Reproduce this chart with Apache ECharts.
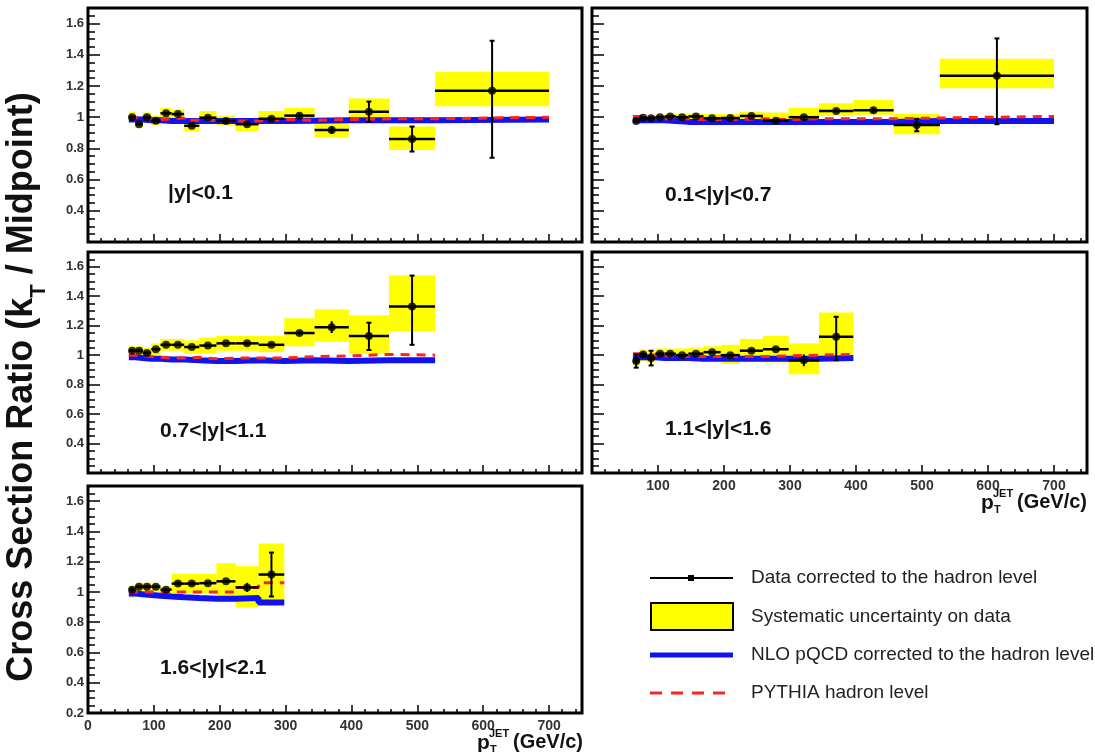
<!DOCTYPE html>
<html><head><meta charset="utf-8">
<script src="https://cdn.jsdelivr.net/npm/echarts@6/dist/echarts.min.js"></script>
<style>html,body{margin:0;padding:0;background:#fff}#c{width:1095px;height:752px}</style>
</head><body><div id="c"></div>
<script>
// ---------------- data ----------------
const binEdges = [62,72,83,96,110,127,146,169,195,224,259,298,344,396,457,527,700];
const pointX   = [67,77.5,89.5,103,118.5,136.5,157.5,182,209.5,241.5,278.5,321,370,426.5,492,613.5];
const xTicks = [0,100,200,300,400,500,600,700];
const yTicks = [0.2,0.4,0.6,0.8,1.0,1.2,1.4,1.6];
const panelLabels = ['|y|<0.1','0.1<|y|<0.7','0.7<|y|<1.1','1.1<|y|<1.6','1.6<|y|<2.1'];

// |y|<0.1
const ratio1  = [1.00,0.955,1.00,0.978,1.025,1.02,0.945,0.997,0.976,0.955,0.99,1.01,0.918,1.035,0.86,1.17];
const errLo1  = [0.01,0.01,0.01,0.01,0.01,0.01,0.01,0.01,0.01,0.01,0.012,0.015,0.025,0.065,0.08,0.43];
const errHi1  = [0.01,0.01,0.01,0.01,0.01,0.01,0.01,0.01,0.01,0.01,0.012,0.015,0.025,0.065,0.08,0.32];
const sysLo1  = [0.97,0.93,0.97,0.95,0.99,0.98,0.91,0.965,0.95,0.91,0.955,0.96,0.87,0.97,0.79,1.07];
const sysHi1  = [1.035,1.00,1.03,1.01,1.06,1.05,0.975,1.04,1.01,0.99,1.04,1.06,0.975,1.12,0.94,1.29];
const nlo1    = [0.985,0.985,0.98,0.98,0.975,0.975,0.975,0.975,0.975,0.975,0.975,0.978,0.98,0.98,0.98,0.985];
const pythia1 = [1.0,0.99,0.99,0.985,0.99,0.995,0.98,0.98,0.975,0.975,0.985,0.98,0.985,0.99,0.99,1.0];

// 0.1<|y|<0.7
const ratio2  = [0.976,0.997,0.993,1.0,1.005,1.0,1.005,0.993,0.995,1.008,0.978,1.0,1.04,1.045,0.95,1.265];
const errLo2  = [0.01,0.005,0.005,0.005,0.005,0.005,0.005,0.005,0.005,0.008,0.008,0.01,0.012,0.018,0.04,0.31];
const errHi2  = [0.01,0.005,0.005,0.005,0.005,0.005,0.005,0.005,0.005,0.008,0.008,0.01,0.012,0.018,0.04,0.24];
const sysLo2  = [0.96,0.985,0.98,0.985,0.99,0.985,0.985,0.975,0.975,0.985,0.95,0.965,1.01,1.015,0.89,1.185];
const sysHi2  = [0.995,1.01,1.01,1.015,1.02,1.02,1.025,1.02,1.02,1.035,1.03,1.06,1.09,1.11,1.02,1.375];
const nlo2    = [0.98,0.98,0.98,0.98,0.975,0.97,0.97,0.97,0.97,0.97,0.97,0.97,0.97,0.97,0.975,0.975];
const pythia2 = [1.005,1.0,0.995,0.99,0.99,0.99,0.985,0.985,0.985,0.99,0.985,0.99,0.99,0.99,0.995,1.005];

// 0.7<|y|<1.1
const ratio3  = [1.03,1.03,1.015,1.04,1.07,1.07,1.055,1.065,1.08,1.08,1.07,1.15,1.19,1.13,1.33];
const errLo3  = [0.012,0.01,0.01,0.008,0.008,0.008,0.008,0.008,0.008,0.01,0.01,0.015,0.04,0.095,0.26];
const errHi3  = [0.012,0.01,0.01,0.008,0.008,0.008,0.008,0.008,0.008,0.01,0.01,0.015,0.04,0.09,0.21];
const sysLo3  = [1.0,0.995,0.985,1.0,1.03,1.03,1.01,1.01,1.03,1.03,1.02,1.06,1.09,1.01,1.16];
const sysHi3  = [1.06,1.06,1.05,1.08,1.11,1.11,1.10,1.12,1.13,1.13,1.13,1.25,1.31,1.27,1.54];
const nlo3    = [0.985,0.98,0.975,0.975,0.97,0.97,0.965,0.96,0.96,0.965,0.96,0.965,0.96,0.965,0.965];
const pythia3 = [1.0,0.995,0.99,0.985,0.98,0.98,0.985,0.975,0.98,0.98,0.98,0.99,0.995,1.005,1.0];

// 1.1<|y|<1.6
const ratio4  = [0.96,1.005,0.98,1.01,1.01,1.0,1.01,1.02,1.0,1.03,1.04,0.965,1.125];
const errLo4  = [0.045,0.02,0.05,0.01,0.008,0.008,0.008,0.008,0.008,0.01,0.012,0.04,0.16];
const errHi4  = [0.045,0.02,0.05,0.01,0.008,0.008,0.008,0.008,0.008,0.01,0.012,0.04,0.135];
const sysLo4  = [0.93,0.96,0.95,0.975,0.975,0.97,0.97,0.975,0.94,0.98,0.95,0.87,0.965];
const sysHi4  = [1.01,1.04,1.03,1.045,1.045,1.045,1.05,1.06,1.07,1.11,1.13,1.08,1.29];
const nlo4    = [0.985,0.985,0.985,0.98,0.98,0.98,0.975,0.975,0.975,0.975,0.975,0.975,0.98];
const pythia4 = [1.01,1.005,1.0,0.995,0.99,0.99,0.99,0.99,0.99,0.99,0.995,1.0,1.005];

// 1.6<|y|<2.1
const ratio5  = [1.015,1.035,1.035,1.035,1.015,1.055,1.055,1.058,1.07,1.03,1.115];
const errLo5  = [0.015,0.01,0.01,0.01,0.01,0.015,0.015,0.01,0.01,0.03,0.145];
const errHi5  = [0.015,0.01,0.01,0.01,0.01,0.015,0.015,0.01,0.01,0.03,0.145];
const sysLo5  = [0.96,1.0,1.0,1.0,0.985,0.99,0.99,0.99,0.95,0.90,0.92];
const sysHi5  = [1.04,1.06,1.06,1.05,1.035,1.12,1.12,1.12,1.19,1.17,1.32];
const nlo5    = [0.99,0.985,0.98,0.975,0.97,0.965,0.96,0.955,0.955,0.96,0.93];
const pythia5 = [1.0,1.0,1.0,1.0,1.0,1.0,1.0,1.0,1.0,1.03,1.06];

const legendNames = ['Data corrected to the hadron level','Systematic uncertainty on data',
                     'NLO pQCD corrected to the hadron level','PYTHIA hadron level'];

// ---------------- layout ----------------
const panels = [
  {ratio:ratio1, errLo:errLo1, errHi:errHi1, sysLo:sysLo1, sysHi:sysHi1, nlo:nlo1, pythia:pythia1,
   grid:{left:88, top:8, width:494, height:234}, yLab:true, xLab:false, xZero:false, lab:[168,195]},
  {ratio:ratio2, errLo:errLo2, errHi:errHi2, sysLo:sysLo2, sysHi:sysHi2, nlo:nlo2, pythia:pythia2,
   grid:{left:592, top:8, width:495, height:234}, yLab:false, xLab:false, xZero:false, lab:[665,197]},
  {ratio:ratio3, errLo:errLo3, errHi:errHi3, sysLo:sysLo3, sysHi:sysHi3, nlo:nlo3, pythia:pythia3,
   grid:{left:88, top:252, width:494, height:221}, yLab:true, xLab:false, xZero:false, lab:[160,433]},
  {ratio:ratio4, errLo:errLo4, errHi:errHi4, sysLo:sysLo4, sysHi:sysHi4, nlo:nlo4, pythia:pythia4,
   grid:{left:592, top:252, width:495, height:221}, yLab:false, xLab:true, xZero:false, lab:[665,431]},
  {ratio:ratio5, errLo:errLo5, errHi:errHi5, sysLo:sysLo5, sysHi:sysHi5, nlo:nlo5, pythia:pythia5,
   grid:{left:88, top:486, width:494, height:227}, yLab:true, xLab:true, xZero:true, lab:[160,670]}
];

const BLUE = '#1212ee', RED = '#ff2222', YEL = '#ffff00';
const grids = [], xAxes = [], yAxes = [], series = [], graphics = [];

panels.forEach((p, i) => {
  const n = p.ratio.length;
  grids.push(Object.assign({show:true, borderColor:'#000', borderWidth:3, backgroundColor:'#fff'}, p.grid));
  xAxes.push({
    gridIndex:i, type:'value', min:0, max:750, interval:100,
    axisLine:{show:false},
    axisTick:{show:true, inside:true, length:8, lineStyle:{color:'#000', width:1.5}},
    minorTick:{show:true, splitNumber:5, length:4, lineStyle:{color:'#000', width:1.5}},
    splitLine:{show:false}, minorSplitLine:{show:false},
    axisLabel:{show:p.xLab, fontFamily:'Arial', fontWeight:'bold', fontSize:14, color:'#333', margin:6,
      formatter: v => (xTicks.indexOf(v) < 0 || (v === 0 && !p.xZero)) ? '' : String(v)}
  });
  yAxes.push({
    gridIndex:i, type:'value', min:0.2, max:1.7, interval:0.2,
    axisLine:{show:false},
    axisTick:{show:true, inside:true, length:12, lineStyle:{color:'#000', width:1.5}},
    minorTick:{show:true, splitNumber:4, length:7, lineStyle:{color:'#000', width:1.5}},
    splitLine:{show:false}, minorSplitLine:{show:false},
    axisLabel:{show:p.yLab, fontFamily:'Arial', fontWeight:'bold', fontSize:13, color:'#333', margin:4,
      formatter: v => {
        const t = yTicks.find(k => Math.abs(k - v) < 1e-6);
        if (t === undefined) return '';
        if (Math.abs(t - 0.2) < 1e-6 && i !== 4) return '';
        return Math.abs(t - 1) < 1e-6 ? '1' : t.toFixed(1);
      }}
  });
  // systematic boxes
  series.push({
    type:'custom', xAxisIndex:i, yAxisIndex:i, silent:true, z:1, clip:true,
    encode:{x:[0,1], y:[2,3]},
    data: p.ratio.map((_, k) => [binEdges[k], binEdges[k+1], p.sysLo[k], p.sysHi[k]]),
    renderItem: (params, api) => {
      const a = api.coord([api.value(0), api.value(3)]);
      const b = api.coord([api.value(1), api.value(2)]);
      return {type:'rect', shape:{x:a[0], y:a[1], width:b[0]-a[0], height:b[1]-a[1]}, style:{fill:YEL}};
    }
  });
  // step lines
  const stepData = arr => arr.map((v, k) => [binEdges[k], v]).concat([[binEdges[n], arr[n-1]]]);
  series.push({type:'line', xAxisIndex:i, yAxisIndex:i, step:'end', showSymbol:false, symbol:'none', z:3,
    silent:true, data:stepData(p.nlo), lineStyle:{color:BLUE, width:6}});
  series.push({type:'line', xAxisIndex:i, yAxisIndex:i, step:'end', showSymbol:false, symbol:'none', z:4,
    silent:true, data:stepData(p.pythia), lineStyle:{color:RED, width:3, type:[9,7]}});
  // error bars
  series.push({
    type:'custom', xAxisIndex:i, yAxisIndex:i, silent:true, z:5, clip:true,
    encode:{x:[0,2,3], y:[1,4,5]},
    data: p.ratio.map((v, k) => [pointX[k], v, binEdges[k], binEdges[k+1], v - p.errLo[k], v + p.errHi[k]]),
    renderItem: (params, api) => {
      const c  = api.coord([api.value(0), api.value(1)]);
      const l  = api.coord([api.value(2), api.value(1)]);
      const r  = api.coord([api.value(3), api.value(1)]);
      const lo = api.coord([api.value(0), api.value(4)]);
      const hi = api.coord([api.value(0), api.value(5)]);
      const st = {stroke:'#000', lineWidth:2.5};
      const ch = [
        {type:'line', shape:{x1:l[0], y1:c[1], x2:r[0], y2:c[1]}, style:st},
        {type:'line', shape:{x1:c[0], y1:lo[1], x2:c[0], y2:hi[1]}, style:{stroke:'#000', lineWidth:2}}
      ];
      if (lo[1] - hi[1] > 12) {
        ch.push({type:'line', shape:{x1:c[0]-2.5, y1:lo[1], x2:c[0]+2.5, y2:lo[1]}, style:{stroke:'#000', lineWidth:2}});
        ch.push({type:'line', shape:{x1:c[0]-2.5, y1:hi[1], x2:c[0]+2.5, y2:hi[1]}, style:{stroke:'#000', lineWidth:2}});
      }
      return {type:'group', children:ch};
    }
  });
  // points
  series.push({type:'scatter', xAxisIndex:i, yAxisIndex:i, z:6, silent:true, symbol:'circle', symbolSize:8,
    itemStyle:{color:'#000'}, data:p.ratio.map((v, k) => [pointX[k], v])});
  // panel label
  graphics.push({type:'text', left:p.lab[0], top:p.lab[1]-12, z:50,
    style:{text:panelLabels[i], font:'bold 21px Arial', fill:'#111'}});
});

// y-axis title
graphics.push({type:'text', x:27, y:387, rotation:Math.PI/2, z:50,
  style:{text:'{a|Cross Section Ratio (k}{b|T}{a| / Midpoint)}', align:'center', verticalAlign:'middle',
    rich:{a:{font:'bold 36px Arial', fill:'#111', lineHeight:46, verticalAlign:'top'},
          b:{font:'bold 22px Arial', fill:'#111', lineHeight:22, verticalAlign:'bottom'}}}});

// x-axis titles
function xTitle(xr, yc) {
  graphics.push({type:'text', x:xr, y:yc, z:50, style:{text:'(GeV/c)', font:'bold 20px Arial', fill:'#111', align:'right', verticalAlign:'middle'}});
  graphics.push({type:'text', x:xr-106, y:yc+1, z:50, style:{text:'p', font:'bold 21px Arial', fill:'#111', align:'left', verticalAlign:'middle'}});
  graphics.push({type:'text', x:xr-94, y:yc-8, z:50, style:{text:'JET', font:'bold 11px Arial', fill:'#111', align:'left', verticalAlign:'middle'}});
  graphics.push({type:'text', x:xr-93, y:yc+8, z:50, style:{text:'T', font:'bold 11px Arial', fill:'#111', align:'left', verticalAlign:'middle'}});
}
xTitle(583, 742);
xTitle(1087, 502);

// legend
graphics.push({type:'line', shape:{x1:650, y1:578, x2:733, y2:578}, style:{stroke:'#000', lineWidth:2}});
graphics.push({type:'rect', shape:{x:688, y:575, width:6, height:6}, style:{fill:'#000'}});
graphics.push({type:'rect', shape:{x:651, y:603, width:82, height:27}, style:{fill:YEL, stroke:'#000', lineWidth:2}});
graphics.push({type:'line', shape:{x1:650, y1:655, x2:733, y2:655}, style:{stroke:BLUE, lineWidth:5}});
graphics.push({type:'line', shape:{x1:650, y1:693, x2:725, y2:693}, style:{stroke:RED, lineWidth:3, lineDash:[12,9]}});
[578, 617, 655, 693].forEach((y, k) => {
  graphics.push({type:'text', x:751, y:y, style:{text:legendNames[k], font:'19px Arial', fill:'#222', verticalAlign:'middle'}});
});

const chart = echarts.init(document.getElementById('c'), null, {renderer:'canvas'});
chart.setOption({
  animation:false, backgroundColor:'#fff',
  grid:grids, xAxis:xAxes, yAxis:yAxes, series:series, graphic:graphics
});
</script></body></html>
